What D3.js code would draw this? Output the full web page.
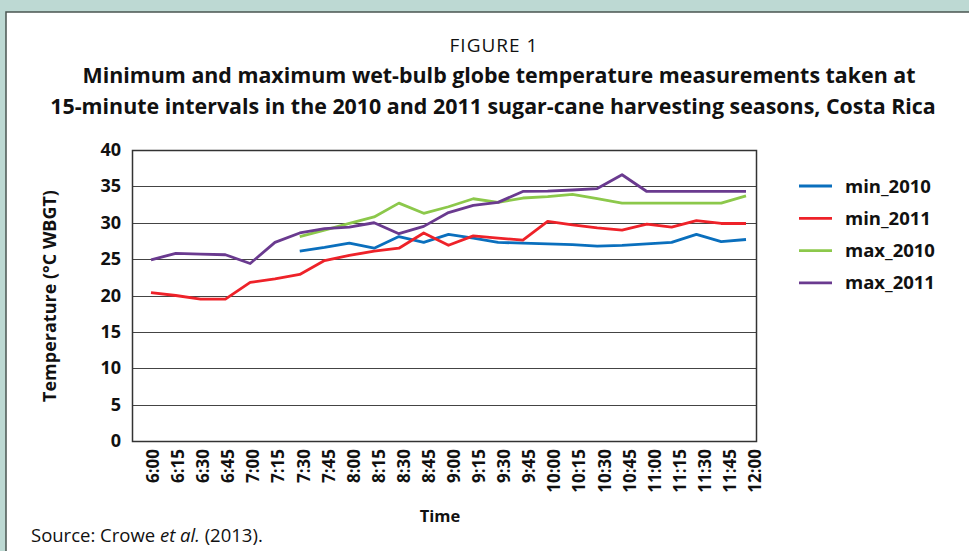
<!DOCTYPE html>
<meta charset="utf-8">
<style>
body { margin: 0; background: #bdd9d3; }
svg { display: block; }
text { font-family: "Open Sans", "Noto Sans", sans-serif; fill: #111; }
.grid line { stroke: #444; stroke-width: 1px; }
.series { fill: none; stroke-width: 2.8px; stroke-linejoin: round; }
</style>

<svg width="969" height="551"></svg>
<script src="https://d3js.org/d3.v7.min.js"></script>

<script>

let times = ["6:00","6:15","6:30","6:45","7:00","7:15","7:30","7:45","8:00","8:15","8:30","8:45",
  "9:00","9:15","9:30","9:45","10:00","10:15","10:30","10:45","11:00","11:15","11:30","11:45","12:00"];
let min_2010 = [null,null,null,null,null,null,26.1,26.6,27.2,26.5,28.1,27.3,
  28.4,27.9,27.3,27.2,27.1,27.0,26.8,26.9,27.1,27.3,28.4,27.4,27.7];
let min_2011 = [20.4,20.0,19.5,19.5,21.8,22.3,22.9,24.8,25.5,26.1,26.5,28.6,
  26.9,28.2,27.9,27.6,30.2,29.7,29.3,29.0,29.8,29.4,30.3,29.9,29.9];
let max_2010 = [null,null,null,null,null,null,28.1,29.0,29.9,30.8,32.7,31.3,
  32.2,33.3,32.8,33.4,33.6,33.9,33.3,32.7,32.7,32.7,32.7,32.7,33.7];
let max_2011 = [24.9,25.8,25.7,25.6,24.4,27.3,28.6,29.2,29.4,30.0,28.5,29.5,
  31.4,32.4,32.8,34.3,34.35,34.5,34.7,36.6,34.3,34.3,34.3,34.3,34.3];
let yTicks = [0,5,10,15,20,25,30,35,40];

let seriesNames = ["min_2010","min_2011","max_2010","max_2011"];
let seriesValues = [min_2010, min_2011, max_2010, max_2011];
let colors = ["#0a6fbd","#ee2229","#8cc84b","#6a3a8f"];

let svg = d3.select("svg");

// panel frame
svg.append("rect")
  .attr("x", 6).attr("y", 12)
  .attr("width", 980).attr("height", 560)
  .attr("fill", "#fff")
  .attr("stroke", "#4a5652").attr("stroke-width", 1.5);

// titles
svg.append("text").attr("x", 494).attr("y", 52)
  .attr("text-anchor", "middle").style("font-size", "19px").style("letter-spacing", "1px")
  .text("FIGURE 1");
svg.append("text").attr("x", 499).attr("y", 83)
  .attr("text-anchor", "middle").style("font-size", "21.4px").style("font-weight", "bold")
  .text("Minimum and maximum wet-bulb globe temperature measurements taken at");
svg.append("text").attr("x", 493).attr("y", 114)
  .attr("text-anchor", "middle").style("font-size", "21.4px").style("font-weight", "bold")
  .text("15-minute intervals in the 2010 and 2011 sugar-cane harvesting seasons, Costa Rica");

let plotL = 132, plotR = 756, plotT = 150, plotB = 441;

let x = d3.scalePoint().domain(times).range([151, 746]);
let xLab = d3.scalePoint().domain(times).range([153, 755]);
let y = d3.scaleLinear().domain([0, 40]).range([plotB, plotT]);

// grid
svg.append("g").attr("class", "grid")
  .selectAll("line")
  .data(yTicks)
  .enter().append("line")
  .attr("x1", plotL).attr("x2", plotR)
  .attr("y1", d => Math.round(y(d)) + 0.5)
  .attr("y2", d => Math.round(y(d)) + 0.5);

svg.append("rect")
  .attr("x", plotL + 0.5).attr("y", plotT + 0.5)
  .attr("width", plotR - plotL).attr("height", plotB - plotT)
  .attr("fill", "none").attr("stroke", "#333").attr("stroke-width", 1.5);

// y axis labels
svg.append("g")
  .selectAll("text")
  .data(yTicks)
  .enter().append("text")
  .attr("x", 121)
  .attr("y", d => y(d) + 6)
  .attr("text-anchor", "end")
  .style("font-size", "18px").style("font-weight", "bold")
  .text(d => d);

svg.append("text")
  .attr("transform", "translate(56,296) rotate(-90)")
  .attr("text-anchor", "middle")
  .style("font-size", "18px").style("font-weight", "bold")
  .text("Temperature (°C WBGT)");

// x axis labels
svg.append("g")
  .selectAll("text")
  .data(times)
  .enter().append("text")
  .attr("transform", d => "translate(" + (xLab(d) + 6) + ",449) rotate(-90)")
  .attr("text-anchor", "end")
  .style("font-size", "17px").style("font-weight", "bold")
  .text(d => d);

svg.append("text").attr("x", 440).attr("y", 522)
  .attr("text-anchor", "middle")
  .style("font-size", "16.5px").style("font-weight", "bold")
  .text("Time");

// lines
let line = d3.line()
  .defined(d => d.v != null)
  .x(d => x(d.t))
  .y(d => y(d.v));

seriesValues.forEach(function(vals, k) {
  svg.append("path")
    .datum(times.map((t, i) => ({t: t, v: vals[i]})))
    .attr("class", "series")
    .attr("stroke", colors[k])
    .attr("d", line);
});

// legend
let legend = svg.append("g")
  .selectAll("g")
  .data(seriesNames)
  .enter().append("g")
  .attr("transform", (d, i) => "translate(799," + (186 + i * 32.3) + ")");

legend.append("line")
  .attr("x1", 0).attr("x2", 33)
  .attr("stroke", (d, i) => colors[i])
  .attr("stroke-width", 2.8);

legend.append("text")
  .attr("x", 46).attr("y", 6.5)
  .style("font-size", "18.5px").style("font-weight", "bold")
  .text(d => d);

// source
let src = svg.append("text").attr("x", 31).attr("y", 542)
  .style("font-size", "18.5px");
src.append("tspan").text("Source: Crowe ");
src.append("tspan").style("font-style", "italic").text("et al.");
src.append("tspan").text(" (2013).");

</script>
